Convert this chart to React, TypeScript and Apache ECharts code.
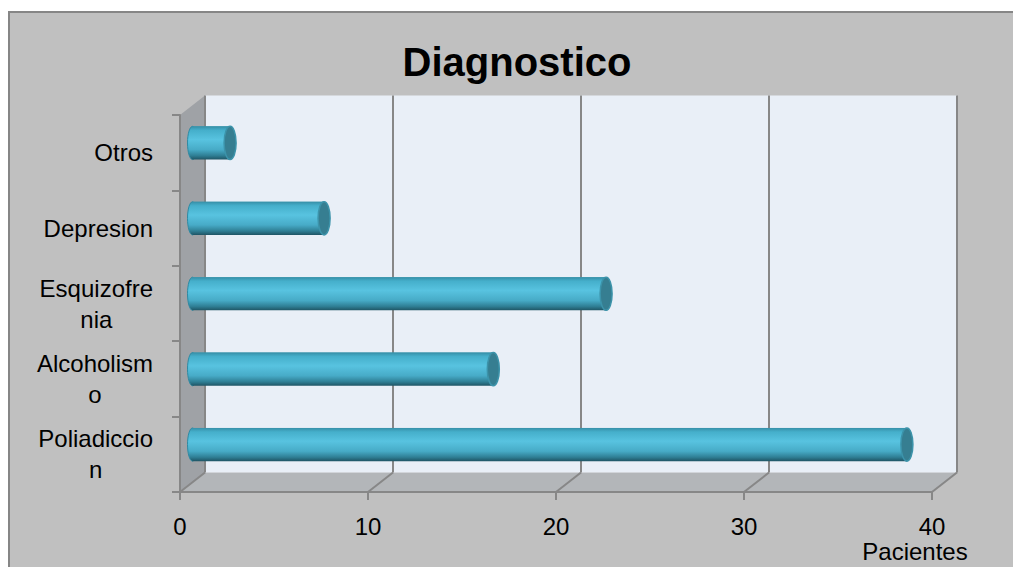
import React, { useEffect, useRef } from "react";
import * as echarts from "echarts";

// ---- data (bottom to top, as ECharts lists category axes) ----
const categories = ["Poliadiccion", "Alcoholismo", "Esquizofrenia", "Depresion", "Otros"];
const pacientes = [38, 16, 22, 7, 2];
const xTicks = [0, 10, 20, 30, 40];
const titleText = "Diagnostico";
const xAxisName = "Pacientes";

// ---- layout ----
const FRONT_LEFT = 180;
const FRONT_TOP = 115;
const PLOT_W = 752;
const PLOT_H = 377;
const DX = 25;
const DY = 19.5;
const FONT = '"Liberation Sans", Arial, sans-serif';
const LABEL_SIZE = 24;
const WRAP_W = 120;
const GRID_COLOR = "#878787";

function wrapLabel(s: string): string {
  const canvas = document.createElement("canvas");
  const ctx = canvas.getContext("2d");
  const lines: string[] = [];
  if (!ctx) return `{c|${s}}`;
  ctx.font = `${LABEL_SIZE}px "Liberation Sans"`;
  let cur = "";
  for (const ch of s) {
    if (cur && ctx.measureText(cur + ch).width > WRAP_W) {
      lines.push(cur);
      cur = ch;
    } else cur += ch;
  }
  lines.push(cur);
  return lines.map((l) => `{c|${l}}`).join("\n");
}

export default function App() {
  const ref = useRef<HTMLDivElement>(null);

  useEffect(() => {
    if (!ref.current) return;
    const chart = echarts.init(ref.current, undefined, { renderer: "svg" });

    const valueAxisBase = { type: "value", min: 0, max: 40, interval: 10 };
    const backLeft = FRONT_LEFT + DX;
    const backTop = FRONT_TOP - DY;
    const frontBottom = FRONT_TOP + PLOT_H;
    const backBottom = backTop + PLOT_H;

    const bodyGradient = () =>
      new echarts.graphic.LinearGradient(0, 0, 0, 1, [
        { offset: 0, color: "#3790a9" },
        { offset: 0.12, color: "#45afcb" },
        { offset: 0.4, color: "#58c3e0" },
        { offset: 0.7, color: "#47abc7" },
        { offset: 0.88, color: "#2f7f95" },
        { offset: 1, color: "#1f5565" },
      ]);

    const option: any = {
      animation: false,
      graphic: [
        {
          type: "polygon",
          z: -1,
          shape: {
            points: [
              [FRONT_LEFT, FRONT_TOP],
              [backLeft, backTop],
              [backLeft, backBottom],
              [FRONT_LEFT, frontBottom],
            ],
          },
          style: { fill: "#9fa2a6" },
        },
        {
          type: "polygon",
          z: -1,
          shape: {
            points: [
              [FRONT_LEFT, frontBottom],
              [backLeft, backBottom],
              [backLeft + PLOT_W, backBottom],
              [FRONT_LEFT + PLOT_W, frontBottom],
            ],
          },
          style: { fill: "#b3b6b9" },
        },
        {
          type: "text",
          x: 517,
          y: 62,
          style: {
            text: titleText,
            font: `bold 40px ${FONT}`,
            fill: "#000",
            textAlign: "center",
            textVerticalAlign: "middle",
          },
        },
      ],
      grid: [
        { left: FRONT_LEFT, top: FRONT_TOP, width: PLOT_W, height: PLOT_H },
        {
          left: backLeft,
          top: backTop,
          width: PLOT_W,
          height: PLOT_H,
          show: true,
          backgroundColor: "#e9eff7",
          borderWidth: 0,
        },
        { left: FRONT_LEFT + DX / 2, top: FRONT_TOP - DY / 2, width: PLOT_W, height: PLOT_H },
      ],
      xAxis: [
        {
          ...valueAxisBase,
          gridIndex: 0,
          axisLine: { show: true, lineStyle: { color: GRID_COLOR, width: 2 } },
          axisTick: { show: true, length: 8, lineStyle: { color: GRID_COLOR, width: 2 } },
          splitLine: { show: false },
          axisLabel: { fontSize: LABEL_SIZE, fontFamily: FONT, color: "#000", margin: 22 },
          name: xAxisName,
          nameLocation: "end",
          nameGap: -17,
          nameTextStyle: {
            fontSize: LABEL_SIZE,
            fontFamily: FONT,
            color: "#000",
            align: "center",
            verticalAlign: "top",
            padding: [47, 0, 0, 0],
          },
        },
        {
          ...valueAxisBase,
          gridIndex: 1,
          axisLine: { show: false },
          axisTick: { show: false },
          axisLabel: { show: false },
          splitLine: { show: true, lineStyle: { color: GRID_COLOR, width: 2 } },
        },
        {
          ...valueAxisBase,
          gridIndex: 2,
          show: false,
        },
      ],
      yAxis: [
        {
          type: "category",
          gridIndex: 0,
          data: categories,
          axisLine: { show: true, lineStyle: { color: GRID_COLOR, width: 2 } },
          axisTick: { show: true, length: 8, lineStyle: { color: GRID_COLOR, width: 2 } },
          axisLabel: {
            margin: 27,
            align: "right",
            formatter: (v: string) => wrapLabel(v),
            rich: {
              c: {
                align: "center",
                fontSize: LABEL_SIZE,
                fontFamily: FONT,
                color: "#000",
                lineHeight: 31,
              },
            },
          },
        },
        { type: "category", gridIndex: 1, data: categories, show: false },
        { type: "category", gridIndex: 2, data: categories, show: false },
      ],
      series: [
        {
          type: "custom",
          xAxisIndex: 1,
          yAxisIndex: 1,
          z: 1,
          data: xTicks.map((t) => [t, 0]),
          renderItem: (params: any, api: any) => {
            const x = api.coord([api.value(0), 0])[0];
            const cs = params.coordSys;
            const yb = cs.y + cs.height;
            return {
              type: "line",
              shape: { x1: x, y1: yb, x2: x - DX, y2: yb + DY },
              style: { stroke: GRID_COLOR, lineWidth: 2 },
            };
          },
        },
        {
          type: "custom",
          xAxisIndex: 2,
          yAxisIndex: 2,
          z: 5,
          data: pacientes.map((v, i) => [v, i]),
          renderItem: (params: any, api: any) => {
            const v = api.value(0);
            const c = api.value(1);
            const s = api.coord([0, c]);
            const e = api.coord([v, c]);
            const h = api.size([0, 1])[1] * 0.44;
            const y = s[1] - h / 2;
            return {
              type: "group",
              children: [
                {
                  type: "ellipse",
                  shape: { cx: s[0], cy: s[1], rx: 5, ry: h / 2 },
                  style: { fill: bodyGradient(), stroke: "#2f8aa3", lineWidth: 1 },
                },
                {
                  type: "rect",
                  shape: { x: s[0], y, width: e[0] - s[0], height: h },
                  style: { fill: bodyGradient() },
                },
                {
                  type: "line",
                  shape: { x1: s[0], y1: y + 0.5, x2: e[0], y2: y + 0.5 },
                  style: { stroke: "#3a95ad", lineWidth: 1 },
                },
                {
                  type: "ellipse",
                  shape: { cx: e[0], cy: e[1], rx: 6, ry: h / 2 },
                  style: { fill: "#367e91", stroke: "#3c93aa", lineWidth: 1.5 },
                },
              ],
            };
          },
        },
      ],
    };

    chart.setOption(option);
    return () => chart.dispose();
  }, []);

  return (
    <div style={{ position: "fixed", left: 0, top: 0, width: 1013, height: 567, background: "#fff", overflow: "hidden" }}>
      <div
        style={{
          position: "absolute",
          left: 8,
          top: 11,
          width: 1100,
          height: 600,
          background: "#c0c0c0",
          border: "2px solid #868686",
          boxSizing: "border-box",
        }}
      />
      <div ref={ref} style={{ position: "absolute", left: 0, top: 0, width: 1013, height: 567 }} />
    </div>
  );
}
